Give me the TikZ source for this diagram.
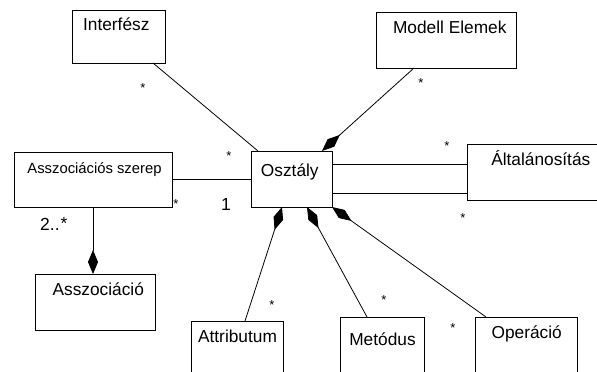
\documentclass[tikz,border=0pt]{standalone}
\usepackage{fontspec}
\setmainfont{Liberation Sans}
\usetikzlibrary{calc,arrows.meta}
\begin{document}
\begin{tikzpicture}[x=1pt,y=-1pt,
  box/.style={draw, rectangle, inner sep=0pt, outer sep=0pt, line width=0.8pt},
  title/.style={inner sep=0pt, anchor=base, font=\fontsize{17.3}{20}\selectfont},
  smalltitle/.style={title, font=\fontsize{14.8}{17}\selectfont},
  mult/.style={inner sep=0pt, anchor=base, font=\fontsize{13}{15}\selectfont},
  bigmult/.style={inner sep=0pt, font=\fontsize{17.5}{20}\selectfont},
  link/.style={line width=0.8pt},
  comp/.style={link, -{Diamond[length=24pt,width=10pt]}},
]
\clip (0,0) rectangle (597,372);

% classes
\node[box, minimum width=93pt,  minimum height=53pt] (intf)  at (118.5,36.5) {};
\node[box, minimum width=140pt, minimum height=56pt] (model) at (446,40) {};
\node[box, minimum width=158pt, minimum height=55pt] (szerep) at (93,179.5) {};
\node[box, minimum width=81pt,  minimum height=56pt] (osz)   at (291.5,179) {};
\node[box, minimum width=133pt, minimum height=56pt] (alt)   at (533.5,172) {};
\node[box, minimum width=120pt, minimum height=56pt] (assoc) at (95,302) {};
\node[box, minimum width=92pt,  minimum height=59pt] (attr)  at (237,350.5) {};
\node[box, minimum width=84pt,  minimum height=63pt] (met)   at (382,348.5) {};
\node[box, minimum width=102pt, minimum height=63pt] (op)    at (526,348.5) {};

% class names
\node[title] (tintf)  at (116.3,30)  {Interfész};
\node[title] (tmodel) at (449.8,33)  {Modell Elemek};
\node[smalltitle] (tszerep) at (94.5,173) {Asszociációs szerep};
\node[title] (tosz)   at (289.8,176) {Osztály};
\node[title] (talt)   at (540.8,165) {Általánosítás};
\node[title] (tassoc) at (98.3,295)  {Asszociáció};
\node[title] (tattr)  at (237.5,342.7) {Attributum};
\node[title] (tmet)   at (382.5,345) {Metódus};
\node[title] (top)    at (526.7,338) {Operáció};

% plain associations
\draw[link] ($(intf.south west)+(81,0)$) -- ($(osz.north west)+(7,0)$);
\draw[link] ($(szerep.north east)+(0,27)$) -- ($(osz.north west)+(0,28)$);
\draw[link] ($(osz.north east)+(0,13)$) -- ($(alt.north west)+(0,20)$);
\draw[link] ($(osz.north east)+(0,42)$) -- ($(alt.north west)+(0,49)$);

% compositions
\draw[comp] ($(model.south west)+(38,0)$) -- ($(osz.north west)+(71,0)$);
\draw[comp] ($(szerep.south west)+(79,0)$) -- ($(assoc.north west)+(58,0)$);
\draw[comp] ($(attr.north west)+(54,0)$) -- ($(osz.south west)+(31,0)$);
\draw[comp] ($(met.north west)+(27,0)$) -- ($(osz.south west)+(56,0)$);
\draw[comp] ($(op.north west)+(11,0)$) -- (osz.south east);

% multiplicities
\node[mult] (m1) at (143,92.4)  {*};
\node[mult] (m2) at (229,160.4) {*};
\node[mult] (m3) at (421,87.4)  {*};
\node[mult] (m4) at (447,150.4) {*};
\node[mult] (m5) at (463,222.4) {*};
\node[mult] (m6) at (176,208.4) {*};
\node[mult] (m7) at (272,309.4) {*};
\node[mult] (m8) at (384,304.4) {*};
\node[mult] (m9) at (453,332.4) {*};
\node[bigmult, anchor=base] (one) at (226,210.7) {1};
\node[bigmult, anchor=base west] (two) at (40,230) {2..\kern1pt\raisebox{1pt}{*}};
\end{tikzpicture}
\end{document}
